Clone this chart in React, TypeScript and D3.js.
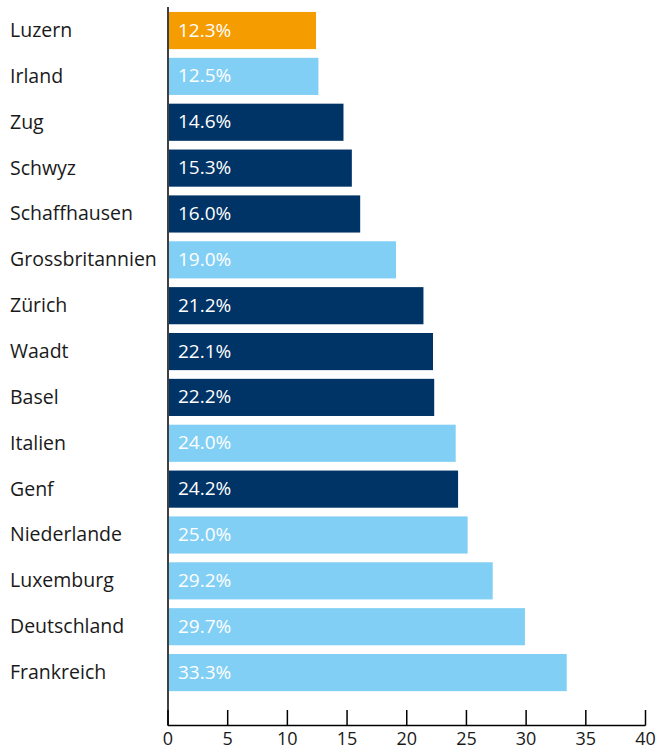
import { useEffect, useRef } from 'react';
import * as d3 from 'd3';

const categories = ['Luzern', 'Irland', 'Zug', 'Schwyz', 'Schaffhausen', 'Grossbritannien', 'Zürich', 'Waadt', 'Basel', 'Italien', 'Genf', 'Niederlande', 'Luxemburg', 'Deutschland', 'Frankreich'];
// bar lengths as drawn (Luxemburg's bar is shorter than its label)
const barValues = [12.4, 12.6, 14.7, 15.4, 16.1, 19.1, 21.4, 22.2, 22.3, 24.1, 24.3, 25.1, 27.2, 29.9, 33.4];
const valueLabels = ['12.3%', '12.5%', '14.6%', '15.3%', '16.0%', '19.0%', '21.2%', '22.1%', '22.2%', '24.0%', '24.2%', '25.0%', '29.2%', '29.7%', '33.3%'];
const groups = ['luzern', 'ausland', 'kanton', 'kanton', 'kanton', 'ausland', 'kanton', 'kanton', 'kanton', 'ausland', 'kanton', 'ausland', 'ausland', 'ausland', 'ausland'];
const xTicks = [0, 5, 10, 15, 20, 25, 30, 35, 40];

const colors: Record<string, string> = { luzern: '#f59c00', ausland: '#82cff5', kanton: '#003366' };

export default function App() {
  const svgRef = useRef<SVGSVGElement>(null);

  useEffect(() => {
    if (!svgRef.current) return;
    const svg = d3.select(svgRef.current);
    svg.selectAll('*').remove();

    const x0 = 168, x1 = 645.5, yTop = 12, axisY = 725.5;
    const x = d3.scaleLinear().domain([0, 40]).range([x0, x1]);
    const y = d3.scaleBand<string>().domain(categories).range([yTop - 4.4, yTop - 4.4 + 45.86 * categories.length]).paddingInner(0.19).paddingOuter(0.095);
    const font = "'Open Sans', sans-serif";

    // bars
    svg.append('g').selectAll('rect').data(categories).enter().append('rect')
      .attr('x', x(0) + 1).attr('y', d => y(d)!)
      .attr('width', (_, i) => x(barValues[i]) - x(0) - 1)
      .attr('height', y.bandwidth())
      .attr('fill', (_, i) => colors[groups[i]]);

    // value labels inside bars
    svg.append('g').selectAll('text').data(categories).enter().append('text')
      .attr('x', x(0) + 10).attr('y', d => y(d)! + y.bandwidth() / 2 - 1)
      .attr('dominant-baseline', 'central')
      .attr('fill', '#fff').attr('font-family', font).attr('font-size', '19px')
      .text((_, i) => valueLabels[i]);

    // category labels
    svg.append('g').selectAll('text').data(categories).enter().append('text')
      .attr('x', 10).attr('y', d => y(d)! + y.bandwidth() / 2 - 1)
      .attr('dominant-baseline', 'central')
      .attr('fill', '#1a1a1a').attr('font-family', font).attr('font-size', '19.5px')
      .text(d => d);

    // axes
    svg.append('line').attr('x1', x0).attr('x2', x0).attr('y1', 7).attr('y2', axisY)
      .attr('stroke', '#000').attr('stroke-width', 1.5);
    svg.append('line').attr('x1', x0).attr('x2', x1).attr('y1', axisY).attr('y2', axisY)
      .attr('stroke', '#000').attr('stroke-width', 1.5);
    const tg = svg.append('g').selectAll('g').data(xTicks).enter().append('g');
    tg.append('line').attr('x1', d => x(d)).attr('x2', d => x(d)).attr('y1', 710).attr('y2', axisY)
      .attr('stroke', '#000').attr('stroke-width', 1.5);
    tg.append('text').attr('x', d => x(d)).attr('y', 745)
      .attr('text-anchor', 'middle').attr('fill', '#1a1a1a')
      .attr('font-family', font).attr('font-size', '18px')
      .text(d => d);
  }, []);

  return <svg ref={svgRef} width={660} height={751} style={{ position: 'absolute', left: 0, top: 0 }} />;
}
